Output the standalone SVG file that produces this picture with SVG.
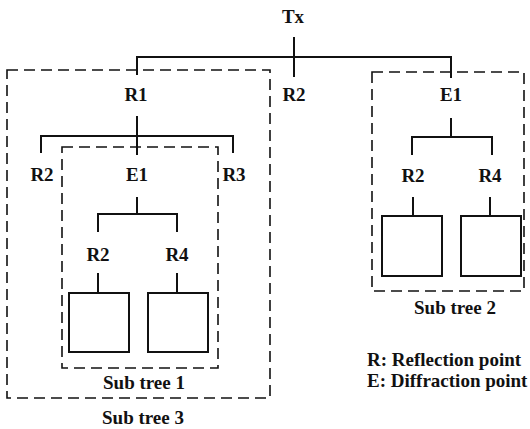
<svg xmlns="http://www.w3.org/2000/svg" width="530" height="429" viewBox="0 0 530 429">
<style>
text{font-family:"Liberation Serif","Times New Roman",serif;font-weight:bold;font-size:19px;fill:#111;text-anchor:middle}
.ln{fill:none;stroke:#111;stroke-width:2}
.dash{fill:none;stroke:#111;stroke-width:1.6;stroke-dasharray:11 6}
.box{fill:#fff;stroke:#111;stroke-width:2}
</style>
<rect width="530" height="429" fill="#fff"/>
<g id="groups">
<g id="subtree3"><rect class="dash" x="7" y="70" width="263" height="328"/><text x="143" y="424">Sub tree 3</text></g>
<g id="subtree1"><rect class="dash" x="62" y="147" width="156" height="221"/><text x="144" y="389">Sub tree 1</text></g>
<g id="subtree2"><rect class="dash" x="372" y="72" width="152" height="219"/><text x="455" y="314">Sub tree 2</text></g>
</g>
<g id="connectors">
<path class="ln" d="M294 37V77M137 75V57H451V78"/>
<path class="ln" d="M137 116V155M41 153V136H233V153"/>
<path class="ln" d="M137 197V214M98 232V214H177V232"/>
<path class="ln" d="M98 273V293M177 273V293"/>
<path class="ln" d="M451 118V137M412 155V137H492V155"/>
<path class="ln" d="M413 197V216M490 197V216"/>
</g>
<g id="tx"><text x="293" y="23">Tx</text></g>
<g id="r1"><text x="136" y="101">R1</text></g>
<g id="r2top"><text x="294" y="101">R2</text></g>
<g id="e1right"><text x="451" y="101">E1</text></g>
<g id="r2a"><text x="42" y="181">R2</text></g>
<g id="e1left"><text x="137" y="181">E1</text></g>
<g id="r3"><text x="234" y="181">R3</text></g>
<g id="r2b"><text x="98" y="261">R2</text></g>
<g id="r4a"><text x="177" y="261">R4</text></g>
<g id="r2c"><text x="413" y="182">R2</text></g>
<g id="r4b"><text x="490" y="182">R4</text></g>
<g id="leaf1"><rect class="box" x="69" y="293" width="60" height="59"/></g>
<g id="leaf2"><rect class="box" x="148" y="293" width="60" height="59"/></g>
<g id="leaf3"><rect class="box" x="382" y="216" width="60" height="60"/></g>
<g id="leaf4"><rect class="box" x="461" y="216" width="60" height="60"/></g>
<g id="legend">
<text x="367" y="366" style="text-anchor:start">R: Reflection point</text>
<text x="367" y="387" style="text-anchor:start">E: Diffraction point</text>
</g>
</svg>
